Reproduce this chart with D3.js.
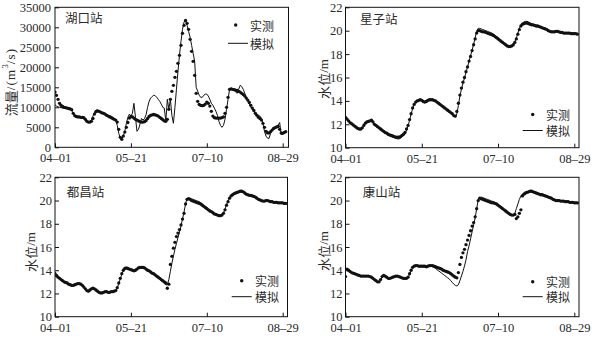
<!DOCTYPE html>
<html><head><meta charset="utf-8">
<script src="https://cdn.jsdelivr.net/npm/d3@7"></script>
<style>
body{margin:0;background:#fff}
</style>
</head><body>
<svg id="c" width="592" height="338"></svg>
<script>
// x-axis tick labels (days since 04-01)
const dateTickLabels = ["04–01","05–21","07–10","08–29"];
const dateTickDays = [0,50,100,150];
const flowTicks = [0,5000,10000,15000,20000,25000,30000,35000];
const levelTicks = [10,12,14,16,18,20,22];

// 湖口站 flow (m3/s), daily from 04-01
const huObs = [
13800,13000,12000,11000,10500,10200,10000,9900,9800,9700,
9600,9400,8500,7900,7700,7600,7600,7500,7500,7400,
7000,6500,6300,6300,6500,7200,8300,8900,9100,9000,
8800,8600,8500,8300,8000,7800,7600,7400,7200,7000,
6800,6300,4500,2500,2000,2800,3800,5000,6200,7300,
7700,7600,7300,7000,6800,6600,6400,6300,6300,6400,
6700,7200,7700,8000,8100,8200,8100,8000,7800,7500,
7200,6900,6600,6500,7000,9500,12000,14000,15500,17500,
19000,21000,23000,25500,28500,30500,31700,31000,29500,27000,
24000,21500,18000,13500,11500,10700,10500,10400,10500,10800,
11300,11000,10300,9000,7800,7400,7300,7300,7300,7300,
7400,7600,8500,10000,12500,14500,14600,14500,14400,14300,
14200,14000,13800,13500,13200,12800,12300,11800,11200,10500,
9800,9200,8500,8000,7500,7200,6800,6000,5000,4000,
3600,3600,3900,4300,4700,4900,5100,5200,4500,3600,
3500,3700,3900];
const huSim = [
10600,10300,10100,10000,9900,9800,9800,9700,9700,9600,
9500,9300,8300,7900,7700,7600,7500,7400,7300,7100,
6800,6500,6400,6500,6900,7800,8700,9300,9300,9100,
8900,8700,8500,8300,8200,8000,7900,7800,7500,7200,
6800,5500,3500,2300,2200,2800,4000,6000,7500,8300,
7800,8500,11000,7500,4000,4500,5800,7200,6800,7200,
8200,10000,11500,12300,12700,13000,12900,12500,12000,11500,
10800,10000,9800,6500,12000,9500,12000,8000,6000,10000,
14500,19000,23000,26500,29500,31300,31800,30500,29000,27500,
25500,23500,21500,15000,14000,13000,12500,12500,13000,13300,
13300,12800,12000,11000,10500,9800,9000,8000,6500,5500,
5000,5500,7000,9500,12000,14500,14800,14700,14300,13800,
13500,14500,15500,15200,14500,13500,12500,11500,10800,10000,
9500,9000,8500,8300,8000,7800,7200,6000,4000,2800,
2300,2200,3500,4500,4700,5000,5200,5500,6200,3200,
3400,3700,4000];

// 星子站 water level (m)
const xzObs = [
12.6,12.45,12.3,12.15,12.05,11.95,11.85,11.75,11.65,11.6,
11.6,11.7,11.9,12.1,12.2,12.25,12.3,12.35,12.2,12.0,
11.9,11.8,11.7,11.6,11.5,11.4,11.3,11.25,11.15,11.1,
11.05,11.0,10.95,10.9,10.9,10.9,10.95,11.05,11.15,11.3,
11.6,11.9,12.4,12.9,13.4,13.7,13.9,14.0,14.05,14.1,
14.05,13.95,13.9,13.95,14.05,14.1,14.1,14.1,14.05,14.0,
13.9,13.8,13.7,13.6,13.5,13.4,13.3,13.2,13.1,13.0,
12.9,12.75,12.7,13.1,13.8,14.5,15.1,15.6,16.0,16.5,
16.9,17.4,17.8,18.3,18.8,19.3,19.8,20.0,20.0,19.95,
19.9,19.9,19.85,19.8,19.75,19.7,19.65,19.6,19.5,19.4,
19.3,19.2,19.1,19.0,18.9,18.8,18.7,18.65,18.65,18.7,
18.8,19.0,19.3,19.7,20.1,20.4,20.55,20.6,20.65,20.65,
20.6,20.55,20.5,20.5,20.45,20.4,20.4,20.35,20.3,20.25,
20.2,20.15,20.1,20.0,19.95,19.9,19.9,19.9,19.95,19.95,
19.9,19.85,19.85,19.8,19.8,19.8,19.8,19.8,19.75,19.75,
19.75,19.75,19.7];
const xzSim = [
12.55,12.4,12.25,12.1,12.0,11.9,11.8,11.7,11.6,11.55,
11.55,11.65,11.85,12.05,12.15,12.2,12.25,12.3,12.15,11.95,
11.85,11.75,11.65,11.55,11.45,11.35,11.25,11.15,11.05,11.0,
10.95,10.9,10.85,10.8,10.75,10.75,10.8,10.9,11.05,11.2,
11.5,11.85,12.35,12.85,13.35,13.7,13.9,14.0,14.05,14.1,
14.05,13.9,13.85,13.9,14.0,14.05,14.05,14.05,14.0,13.95,
13.85,13.75,13.65,13.55,13.45,13.35,13.25,13.15,13.05,12.95,
12.85,12.7,12.6,12.9,13.6,14.4,15.0,15.5,15.95,16.45,
16.9,17.4,17.85,18.35,18.85,19.4,19.95,20.2,20.2,20.15,
20.1,20.05,20.0,19.95,19.9,19.85,19.8,19.7,19.6,19.5,
19.4,19.3,19.2,19.05,18.95,18.85,18.75,18.7,18.7,18.75,
18.85,19.05,19.35,19.8,20.2,20.5,20.65,20.75,20.8,20.8,
20.75,20.65,20.6,20.55,20.5,20.45,20.45,20.4,20.35,20.3,
20.25,20.2,20.15,20.05,20.0,19.95,19.95,19.95,20.0,20.0,
19.95,19.9,19.9,19.85,19.85,19.85,19.85,19.8,19.8,19.8,
19.8,19.75,19.75];

// 都昌站 water level (m)
const dcObs = [
13.7,13.55,13.4,13.3,13.2,13.1,13.0,12.95,12.9,12.8,
12.75,12.7,12.7,12.75,12.8,12.85,12.85,12.8,12.7,12.55,
12.4,12.25,12.2,12.3,12.4,12.45,12.4,12.3,12.2,12.1,
12.05,12.05,12.1,12.15,12.15,12.1,12.1,12.15,12.15,12.2,
12.25,12.5,12.9,13.3,13.7,14.0,14.15,14.2,14.15,14.1,
14.05,14.0,13.95,14.0,14.1,14.2,14.25,14.25,14.25,14.2,
14.1,14.0,13.95,13.85,13.75,13.7,13.6,13.5,13.4,13.3,
13.2,13.1,13.0,12.9,12.45,12.8,14.5,15.2,15.9,16.4,
16.9,17.2,17.5,17.9,18.4,18.9,19.7,20.1,20.15,20.1,
20.0,19.95,19.9,19.85,19.8,19.75,19.7,19.6,19.5,19.4,
19.3,19.2,19.1,19.05,18.95,18.85,18.8,18.75,18.7,18.7,
18.75,18.9,19.2,19.6,19.9,20.2,20.4,20.5,20.6,20.65,
20.7,20.75,20.8,20.8,20.75,20.65,20.55,20.5,20.45,20.45,
20.4,20.35,20.3,20.2,20.1,20.05,20.0,19.95,19.95,20.0,
20.0,19.95,19.9,19.9,19.85,19.85,19.85,19.8,19.8,19.8,
19.8,19.75,19.75];
const dcSim = [
13.65,13.5,13.35,13.25,13.15,13.05,12.95,12.9,12.85,12.75,
12.7,12.65,12.65,12.7,12.75,12.8,12.8,12.75,12.65,12.5,
12.35,12.2,12.15,12.25,12.35,12.4,12.35,12.25,12.15,12.05,
12.0,12.0,12.05,12.1,12.1,12.05,12.05,12.1,12.1,12.15,
12.2,12.45,12.85,13.25,13.65,13.95,14.1,14.15,14.1,14.05,
14.0,13.95,13.9,13.95,14.05,14.15,14.2,14.2,14.2,14.15,
14.05,13.95,13.9,13.8,13.7,13.6,13.5,13.4,13.3,13.2,
13.1,13.0,12.85,12.75,12.75,13.2,13.9,14.6,15.2,15.8,
16.3,16.8,17.3,17.8,18.4,19.0,19.7,20.2,20.25,20.2,
20.15,20.1,20.05,20.0,19.95,19.9,19.8,19.7,19.6,19.5,
19.4,19.3,19.2,19.1,19.0,18.9,18.85,18.8,18.75,18.75,
18.8,18.95,19.25,19.65,19.95,20.25,20.45,20.55,20.65,20.7,
20.75,20.8,20.85,20.85,20.8,20.7,20.6,20.55,20.5,20.5,
20.45,20.4,20.35,20.25,20.15,20.1,20.05,20.0,20.0,20.05,
20.05,20.0,19.95,19.95,19.9,19.9,19.9,19.85,19.85,19.85,
19.85,19.8,19.8];

// 康山站 water level (m)
const ksObs = [
13.45,14.1,14.0,13.9,13.8,13.75,13.7,13.65,13.6,13.55,
13.5,13.5,13.5,13.5,13.5,13.5,13.45,13.4,13.3,13.2,
13.1,13.0,13.0,13.2,13.45,13.55,13.5,13.4,13.3,13.3,
13.35,13.4,13.45,13.5,13.5,13.45,13.4,13.35,13.3,13.3,
13.3,13.4,13.7,14.0,14.25,14.35,14.4,14.4,14.35,14.35,
14.35,14.35,14.35,14.3,14.35,14.4,14.4,14.4,14.35,14.3,
14.25,14.2,14.15,14.1,14.0,13.95,13.9,13.85,13.8,13.7,
13.6,13.5,13.4,13.35,13.8,14.5,15.1,15.5,15.8,16.2,
16.6,17.0,17.4,17.8,18.1,18.6,19.3,20.0,20.2,20.15,
20.1,20.05,20.0,19.95,19.9,19.85,19.8,19.8,19.75,19.7,
19.6,19.5,19.4,19.3,19.2,19.1,19.0,18.9,18.8,18.75,
18.75,18.8,18.45,18.6,18.9,19.2,20.4,20.55,20.65,20.7,
20.75,20.8,20.8,20.75,20.7,20.65,20.6,20.55,20.5,20.5,
20.45,20.4,20.35,20.3,20.25,20.2,20.1,20.05,20.0,20.0,
20.0,19.95,19.95,19.95,19.9,19.9,19.9,19.85,19.85,19.85,
19.8,19.8,19.8];
const ksSim = [
14.15,14.05,13.95,13.85,13.75,13.7,13.65,13.6,13.55,13.5,
13.5,13.5,13.5,13.5,13.5,13.5,13.45,13.35,13.25,13.15,
13.05,12.95,12.95,13.15,13.4,13.5,13.45,13.35,13.25,13.25,
13.3,13.35,13.4,13.45,13.45,13.4,13.35,13.3,13.25,13.25,
13.25,13.35,13.65,13.95,14.2,14.3,14.35,14.35,14.3,14.3,
14.3,14.3,14.3,14.25,14.3,14.35,14.35,14.3,14.25,14.15,
14.05,13.95,13.85,13.75,13.65,13.55,13.45,13.35,13.25,13.1,
12.95,12.8,12.7,12.65,12.75,13.1,13.5,13.9,14.35,14.9,
15.6,16.1,16.7,17.3,17.9,18.5,19.3,20.05,20.25,20.3,
20.25,20.2,20.15,20.1,20.05,20.0,19.95,19.9,19.85,19.75,
19.65,19.55,19.45,19.35,19.25,19.1,19.0,18.9,18.8,18.75,
18.75,18.9,19.3,19.7,20.1,20.4,20.55,20.65,20.7,20.75,
20.8,20.85,20.85,20.8,20.75,20.7,20.65,20.6,20.55,20.55,
20.5,20.45,20.4,20.35,20.3,20.25,20.15,20.1,20.05,20.05,
20.05,20.0,20.0,20.0,19.95,19.95,19.95,19.9,19.9,19.9,
19.85,19.85,19.85];

const stationNames = ["湖口站","星子站","都昌站","康山站"];
const legendLabels = ["实测","模拟"];
const yLabelFlowParts = ["流量", "/(m", "3", "/s)"];
const yLabelLevelParts = ["水位", "/m"];

const SERIF = '"Liberation Serif","Times New Roman","DejaVu Serif",serif';
const CJK = '"Noto Sans CJK SC","Noto Sans CJK JP",sans-serif';
const INK = "#111";
const TXT = "#2a2a2a";

const svg = d3.select("#c");

const panels = [
  {name:stationNames[0], obs:huObs, sim:huSim, ticks:flowTicks, domain:[0,35000], flow:true,
   x0:55, x150:282.7, x1:288.5, yT:7.3, yB:147.3, pad:4, title:[65,17.5], yl:[9.5,82],
   leg:{dot:[235.7,25], line:[228,248,43.3], tx:250}},
  {name:stationNames[1], obs:xzObs, sim:xzSim, ticks:levelTicks, domain:[10,22], flow:false,
   x0:345.5, x150:574.3, x1:579, yT:7.3, yB:147.7, pad:3, title:[360,18], yl:[322.7,79],
   leg:{dot:[532.7,114.5], line:[522.7,542.7,130.5], tx:546}},
  {name:stationNames[2], obs:dcObs, sim:dcSim, ticks:levelTicks, domain:[10,22], flow:false,
   x0:55, x150:282.7, x1:287.5, yT:177.3, yB:316.7, pad:3, title:[66.7,191.7], yl:[29.5,252],
   leg:{dot:[241.7,280.7], line:[231.7,251.7,296.7], tx:255}},
  {name:stationNames[3], obs:ksObs, sim:ksSim, ticks:levelTicks, domain:[10,22], flow:false,
   x0:345.5, x150:574.3, x1:579, yT:177.3, yB:316.7, pad:3, title:[362.7,191.7], yl:[322.7,251],
   leg:{dot:[532.7,281.7], line:[522.7,542.7,296.7], tx:546}}
];

panels.forEach((p, k) => {
  const g = svg.append("g");
  const x = d3.scaleLinear().domain([0,150]).range([p.x0, p.x150]);
  const y = d3.scaleLinear().domain(p.domain).range([p.yB, p.yT]);

  const cid = "clip" + k;
  svg.append("clipPath").attr("id", cid).append("rect")
    .attr("x", p.x0).attr("y", p.yT - 2).attr("width", p.x1 - p.x0).attr("height", p.yB - p.yT + 2);

  g.append("rect").attr("x", p.x0).attr("y", p.yT).attr("width", p.x1 - p.x0).attr("height", p.yB - p.yT)
    .attr("fill","none").attr("stroke",INK).attr("stroke-width",1);

  const ya = g.append("g").attr("transform",`translate(${p.x0},0)`)
    .call(d3.axisLeft(y).tickValues(p.ticks).tickFormat(d3.format("d")).tickSizeInner(-4).tickSizeOuter(0).tickPadding(p.pad));
  const xa = g.append("g").attr("transform",`translate(0,${p.yB})`)
    .call(d3.axisBottom(x).tickValues(dateTickDays).tickFormat((d,i)=>dateTickLabels[i]).tickSizeInner(-4).tickSizeOuter(0).tickPadding(6));
  [ya, xa].forEach(a => {
    a.attr("font-family", null).attr("font-size", null);
    a.select(".domain").remove();
    a.selectAll("line").attr("stroke",INK);
    a.selectAll("text").style("font-family", SERIF).style("font-size","12.5px").attr("fill",TXT);
  });

  const pg = g.append("g").attr("clip-path", `url(#${cid})`);

  pg.append("path").datum(p.sim)
    .attr("d", d3.line().x((d,i)=>x(i)).y(d=>y(d)))
    .attr("fill","none").attr("stroke",INK).attr("stroke-width",1);

  pg.selectAll("circle.o").data(p.obs).join("circle").attr("class","o")
    .attr("cx",(d,i)=>x(i)).attr("cy",d=>y(d)).attr("r",1.65).attr("fill",INK);

  g.append("text").attr("x",p.title[0]).attr("y",p.title[1]).attr("dominant-baseline","central")
    .style("font-family",CJK).style("font-size","12.5px").attr("fill",TXT).text(p.name);

  // y label
  const yl = g.append("text").attr("transform",`translate(${p.yl[0]},${p.yl[1]}) rotate(-90)`)
    .attr("text-anchor","middle").attr("dominant-baseline","central").attr("fill",TXT)
    .style("font-size","13px");
  if (p.flow) {
    yl.append("tspan").style("font-family",CJK).text(yLabelFlowParts[0]);
    yl.append("tspan").style("font-family",SERIF).style("letter-spacing","1.2px").text(yLabelFlowParts[1]);
    yl.append("tspan").style("font-family",SERIF).style("font-size","8.5px").attr("dy",-5).text(yLabelFlowParts[2]);
    yl.append("tspan").style("font-family",SERIF).style("letter-spacing","1.2px").attr("dy",5).text(yLabelFlowParts[3]);
  } else {
    yl.append("tspan").style("font-family",CJK).text(yLabelLevelParts[0]);
    yl.append("tspan").style("font-family",SERIF).text(yLabelLevelParts[1]);
  }

  // legend
  g.append("circle").attr("cx",p.leg.dot[0]).attr("cy",p.leg.dot[1]).attr("r",1.7).attr("fill",INK);
  g.append("line").attr("x1",p.leg.line[0]).attr("x2",p.leg.line[1]).attr("y1",p.leg.line[2]).attr("y2",p.leg.line[2])
    .attr("stroke",INK).attr("stroke-width",1);
  g.append("text").attr("x",p.leg.tx).attr("y",p.leg.dot[1]).attr("dominant-baseline","central")
    .style("font-family",CJK).style("font-size","12px").attr("fill",TXT).text(legendLabels[0]);
  g.append("text").attr("x",p.leg.tx).attr("y",p.leg.line[2]).attr("dominant-baseline","central")
    .style("font-family",CJK).style("font-size","12px").attr("fill",TXT).text(legendLabels[1]);
});
</script>
</body></html>
